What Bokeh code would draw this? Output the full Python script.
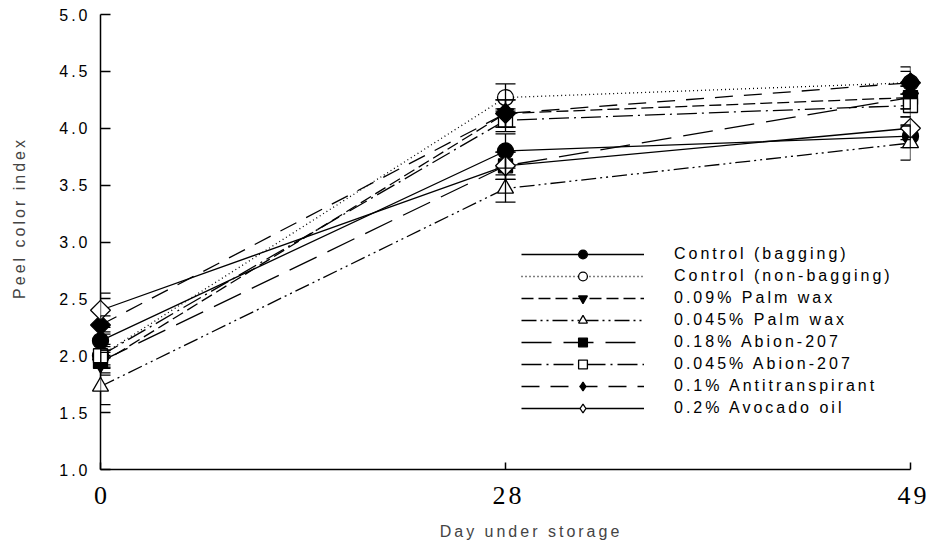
from bokeh.plotting import figure
from bokeh.models import (Range1d, FixedTicker, Whisker, TeeHead, ColumnDataSource,
                          Legend, LegendItem, InlineStyleSheet)
from bokeh.embed import file_html
from bokeh.resources import INLINE
import math

# ---------------- data ----------------
days = [0, 28, 49]
x_tick_labels = ["0", "28", "49"]
y_ticks = [1.0, 1.5, 2.0, 2.5, 3.0, 3.5, 4.0, 4.5, 5.0]

names = ["Control (bagging)", "Control (non-bagging)", "0.09% Palm wax", "0.045% Palm wax",
         "0.18% Abion-207", "0.045% Abion-207", "0.1% Antitranspirant", "0.2% Avocado oil"]

control_bag = [2.13, 3.80, 3.93]
control_nonbag = [2.00, 4.27, 4.40]
palm_009 = [1.93, 4.13, 4.27]
palm_0045 = [1.73, 3.47, 3.87]
abion_018 = [1.95, 3.67, 4.27]
abion_0045 = [2.00, 4.07, 4.20]
antitrans = [2.27, 4.13, 4.40]
avocado = [2.40, 3.67, 4.00]

err_control_bag = [0.08, 0.15, 0.10]
err_control_nonbag = [0.10, 0.12, 0.10]
err_palm_009 = [0.10, 0.12, 0.10]
err_palm_0045 = [0.16, 0.12, 0.15]
err_abion_018 = [0.10, 0.12, 0.10]
err_abion_0045 = [0.08, 0.10, 0.10]
err_antitrans = [0.08, 0.12, 0.14]
err_avocado = [0.15, 0.12, 0.10]

series_values = [control_bag, control_nonbag, palm_009, palm_0045,
                 abion_018, abion_0045, antitrans, avocado]
series_errors = [err_control_bag, err_control_nonbag, err_palm_009, err_palm_0045,
                 err_abion_018, err_abion_0045, err_antitrans, err_avocado]

# ---------------- styles ----------------
D = math.pi / 4
styles = [
    dict(dash="solid", marker="circle", fill="black", size=16, angle=0, lmarker="circle"),
    dict(dash="1 3", marker="circle", fill="white", size=16, angle=0, lmarker="circle"),
    dict(dash="12 5", marker="inverted_triangle", fill="black", size=16, angle=0,
         lmarker="inverted_triangle"),
    dict(dash="15 4 2 4 2 4", marker="triangle", fill="white", size=16, angle=0,
         lmarker="triangle"),
    dict(dash="30 12", marker="square", fill="black", size=14, angle=0, lmarker="square"),
    dict(dash="20 5 2 5", marker="square", fill="white", size=14, angle=0, lmarker="square"),
    dict(dash="18 11", marker="square", fill="black", size=14, angle=D, lmarker="diamond"),
    dict(dash="solid", marker="square", fill="white", size=14, angle=D, lmarker="diamond"),
]

SANS = "Liberation Sans"
SERIF = "Liberation Serif"

p = figure(output_backend="svg", toolbar_location=None,
           frame_width=810, frame_height=455,
           min_border_left=100, min_border_right=20, min_border_top=14, min_border_bottom=76,
           x_range=Range1d(0, 2), y_range=Range1d(1, 5))
p.outline_line_color = None
p.xgrid.visible = False
p.ygrid.visible = False
p.background_fill_color = "white"
p.border_fill_color = "white"
p.stylesheets = [InlineStyleSheet(css=":host { letter-spacing: 3px; }")]

xpos = list(range(len(days)))

legend_items = []
for name, vals, errs, st in zip(names, series_values, series_errors, styles):
    src = ColumnDataSource(dict(x=xpos, y=vals,
                                upper=[v + e for v, e in zip(vals, errs)],
                                lower=[v - e for v, e in zip(vals, errs)]))
    ln = p.line("x", "y", source=src, line_color="black", line_width=1.3,
                line_dash=st["dash"], level="overlay")
    w = Whisker(source=src, base="x", upper="upper", lower="lower",
                line_color="black", line_width=1.3, level="overlay",
                upper_head=TeeHead(size=20, line_color="black", line_width=1.3),
                lower_head=TeeHead(size=20, line_color="black", line_width=1.3))
    p.add_layout(w)
    sc = p.scatter("x", "y", source=src, marker=st["marker"], size=st["size"],
                   angle=st["angle"], fill_color=st["fill"], line_color="black",
                   line_width=1.3, level="overlay")
    if st["lmarker"] != st["marker"]:
        # legend-only marker (the legend would draw the rotated square unrotated)
        sc_leg = p.scatter("x", "y", source=src, marker=st["lmarker"], size=st["size"],
                           fill_color=st["fill"], line_color="black", line_width=1.3,
                           visible=False)
        legend_items.append(LegendItem(label=name, renderers=[ln, sc_leg]))
    else:
        legend_items.append(LegendItem(label=name, renderers=[ln, sc]))

legend = Legend(items=legend_items, location=(421, 50),
                glyph_width=123, glyph_height=22, spacing=0, label_standoff=30,
                padding=0, margin=0, border_line_color=None, background_fill_alpha=0,
                label_text_font=SANS, label_text_font_size="16px", label_text_color="black")
p.add_layout(legend, "center")

# axes
p.xaxis.ticker = FixedTicker(ticks=xpos)
p.xaxis.major_label_overrides = {i: lab for i, lab in zip(xpos, x_tick_labels)}
p.xaxis.major_label_text_font = SERIF
p.xaxis.major_label_text_font_size = "26px"
p.xaxis.major_label_text_color = "black"
p.xaxis.major_label_standoff = 17
p.xaxis.major_tick_in = 7
p.xaxis.major_tick_out = 0
p.xaxis.minor_tick_line_color = None
p.xaxis.axis_line_width = 1.5
p.xaxis.major_tick_line_width = 1.5
p.xaxis.axis_label = "Day under storage"
p.xaxis.axis_label_text_font = SANS
p.xaxis.axis_label_text_font_style = "normal"
p.xaxis.axis_label_text_font_size = "16px"
p.xaxis.axis_label_standoff = 16

p.yaxis.ticker = FixedTicker(ticks=y_ticks)
p.yaxis.major_label_overrides = {t: f"{t:.1f}" for t in y_ticks}
p.yaxis.major_label_text_font = SANS
p.yaxis.major_label_text_font_size = "16px"
p.yaxis.major_label_text_color = "black"
p.yaxis.major_label_standoff = 19
p.yaxis.major_tick_in = 10
p.yaxis.major_tick_out = 0
p.yaxis.minor_tick_line_color = None
p.yaxis.axis_line_width = 1.5
p.yaxis.major_tick_line_width = 1.5
p.yaxis.axis_label = "Peel color index"
p.yaxis.axis_label_text_font = SANS
p.yaxis.axis_label_text_font_style = "normal"
p.yaxis.axis_label_text_font_size = "16px"
p.yaxis.axis_label_standoff = 28

open("out.html", "w").write(file_html(p, INLINE))
